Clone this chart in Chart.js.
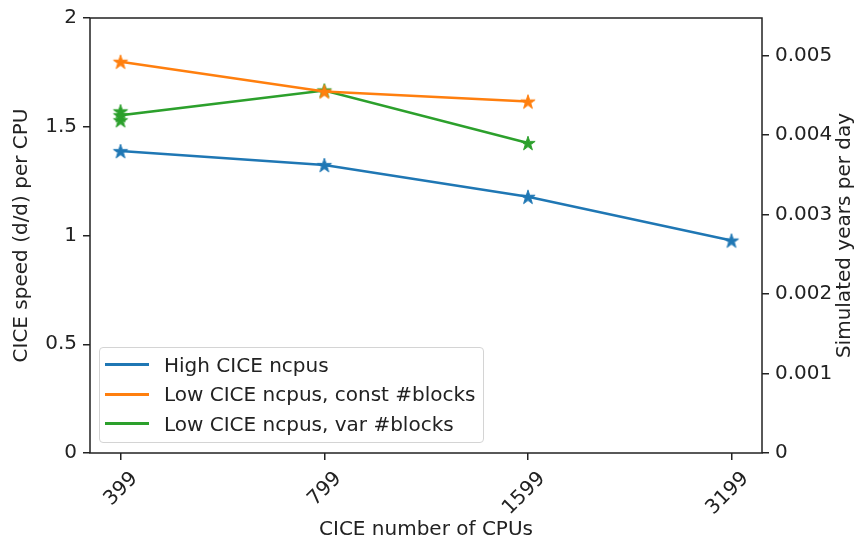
<!DOCTYPE html>
<html>
<head>
<meta charset="utf-8">
<script src="https://cdn.jsdelivr.net/npm/chart.js@4.4.0/dist/chart.umd.min.js"></script>
<style>
  body { margin: 0; background: #fff; }
  #wrap { position: relative; width: 860px; height: 550px; }
  #legend {
    position: absolute; left: 99px; top: 347px; width: 385px; height: 96px;
    border: 1px solid #d4d4d4; border-radius: 4px; background: rgba(255,255,255,0.8);
    font-family: "DejaVu Sans"; font-size: 20px; color: #222; box-sizing: border-box;
    padding-top: 2px;
  }
  .row { height: 29.5px; display: flex; align-items: center; }
  .swatch { width: 44px; height: 3px; margin-left: 5px; margin-right: 15px; }
</style>
</head>
<body>
<div id="wrap">
  <canvas id="myChart" width="860" height="550"></canvas>
  <div id="legend"></div>
</div>
<script>
// values
const cpus = [399, 799, 1599, 3199];
const highCpus = [399, 799, 1599, 3199];
const highSpeed = [1.388, 1.324, 1.178, 0.977];
const constCpus = [399, 799, 1599];
const constSpeed = [1.799, 1.662, 1.616];
const varCpus = [399, 399, 399, 799, 1599];
const varSpeed = [1.571, 1.530, 1.553, 1.667, 1.425];
const leftTicks = [0, 0.5, 1, 1.5, 2];
const rightTicks = [0, 0.001, 0.002, 0.003, 0.004, 0.005];
const rightMax = 0.005475;

const seriesNames = ["High CICE ncpus", "Low CICE ncpus, const #blocks", "Low CICE ncpus, var #blocks"];
const colors = ["#1f77b4", "#ff7f0e", "#2ca02c"];

const FONT = "DejaVu Sans";
const FS = 20;
const INK = "#222";

function makeStar(color) {
    const size = 18;
    const c = document.createElement("canvas");
    c.width = size; c.height = size;
    const g = c.getContext("2d");
    const R = 7.5, r = R * 0.382;
    g.beginPath();
    for (let i = 0; i < 10; i++) {
        const rad = i % 2 === 0 ? R : r;
        const a = -Math.PI / 2 + i * Math.PI / 5;
        const px = size / 2 + rad * Math.cos(a), py = size / 2 + 0.7 + rad * Math.sin(a);
        if (i === 0) g.moveTo(px, py); else g.lineTo(px, py);
    }
    g.closePath();
    g.fillStyle = color;
    g.fill();
    g.strokeStyle = color;
    g.lineWidth = 1;
    g.stroke();
    return c;
}

function toPoints(xs, ys) {
    return xs.map((x, i) => ({x: x, y: ys[i]}));
}

function makeSet(label, xs, ys, color) {
    return {
        label: label,
        data: toPoints(xs, ys),
        borderColor: color,
        backgroundColor: color,
        borderWidth: 2.5,
        pointStyle: makeStar(color),
        pointRadius: 8,
        tension: 0,
        yAxisID: "y"
    };
}

// box round the plot + right axis title reading upwards
const frame = {
    id: "frame",
    afterDatasetsDraw(chart) {
        const a = chart.chartArea;
        const ctx = chart.ctx;
        ctx.save();
        ctx.strokeStyle = INK;
        ctx.lineWidth = 1.5;
        ctx.strokeRect(a.left, a.top, a.right - a.left, a.bottom - a.top);
        ctx.translate(845, (a.top + a.bottom) / 2);
        ctx.rotate(-Math.PI / 2);
        ctx.fillStyle = INK;
        ctx.font = FS + "px '" + FONT + "'";
        ctx.textAlign = "center";
        ctx.textBaseline = "middle";
        ctx.fillText("Simulated years per day", 0, 0);
        ctx.restore();
    }
};

const span = Math.pow(2, 0.15);
const tickStyle = {display: true, drawOnChartArea: false, drawTicks: true, tickLength: 7, color: INK, lineWidth: 1.5};

const ctx = document.getElementById("myChart").getContext("2d");
const myChart = new Chart(ctx, {
    type: "line",
    data: {
        datasets: [
            makeSet(seriesNames[0], highCpus, highSpeed, colors[0]),
            makeSet(seriesNames[1], constCpus, constSpeed, colors[1]),
            makeSet(seriesNames[2], varCpus, varSpeed, colors[2])
        ]
    },
    options: {
        responsive: false,
        animation: false,
        layout: {padding: {top: 15, left: 0, right: 0, bottom: 0}},
        plugins: {legend: {display: false}, tooltip: {enabled: false}},
        scales: {
            x: {
                type: "logarithmic",
                min: cpus[0] / span,
                max: cpus[cpus.length - 1] * span,
                afterBuildTicks: (s) => { s.ticks = cpus.map(v => ({value: v})); },
                afterFit: (s) => { s.height = 97; },
                grid: tickStyle,
                border: {display: false},
                ticks: {
                    minRotation: 45, maxRotation: 45, autoSkip: false, padding: 7, labelOffset: 14,
                    color: INK, font: {family: FONT, size: FS},
                    callback: (v) => String(v)
                },
                title: {display: true, text: "CICE number of CPUs", color: INK, font: {family: FONT, size: FS}, padding: {top: 0, bottom: 8}}
            },
            y: {
                position: "left",
                min: 0, max: 2,
                afterBuildTicks: (s) => { s.ticks = leftTicks.map(v => ({value: v})); },
                afterFit: (s) => { s.width = 90; },
                grid: tickStyle,
                border: {display: false},
                ticks: {padding: 6, color: INK, font: {family: FONT, size: FS}, callback: (v) => String(v)},
                title: {display: true, text: "CICE speed (d/d) per CPU", color: INK, font: {family: FONT, size: FS}, padding: {top: 10, bottom: 0}}
            },
            y1: {
                position: "right",
                display: true,
                min: 0, max: rightMax,
                afterBuildTicks: (s) => { s.ticks = rightTicks.map(v => ({value: v})); },
                ticks: {padding: 6, color: INK, font: {family: FONT, size: FS},
                    callback: (v) => v === 0 ? "0" : v.toFixed(3)},
                afterFit: (s) => { s.width = 98; },
                grid: tickStyle,
                border: {display: false},
                title: {display: false}
            }
        }
    },
    plugins: [frame]
});

// legend box inside the plot, like the original
const legend = document.getElementById("legend");
seriesNames.forEach((name, i) => {
    const row = document.createElement("div");
    row.className = "row";
    row.innerHTML = '<span class="swatch" style="background:' + colors[i] + '"></span><span>' + name + '</span>';
    legend.appendChild(row);
});
</script>
</body>
</html>
